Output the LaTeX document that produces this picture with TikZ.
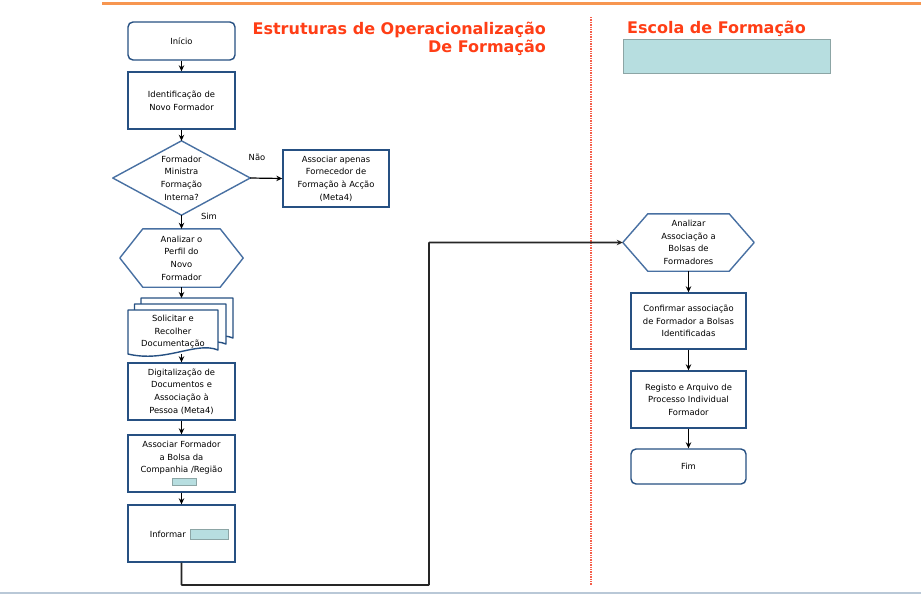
\documentclass[tikz,border=0pt]{standalone}
\usepackage{fontspec}
\setmainfont{DejaVu Sans}
\usetikzlibrary{arrows.meta}

\definecolor{boxblue}{RGB}{38,80,130}
\definecolor{hexblue}{RGB}{72,112,162}
\definecolor{banner}{RGB}{183,222,224}
\definecolor{bannerline}{RGB}{140,165,165}
\definecolor{titlered}{RGB}{255,62,22}
\definecolor{topline}{RGB}{247,150,80}
\definecolor{bottomline}{RGB}{185,200,215}
\definecolor{divider}{RGB}{245,95,75}

\newcommand\boxfont{\fontsize{8.4}{12.6}\selectfont}
\newcommand\titlefont{\bfseries\fontsize{16}{18}\selectfont}

\tikzset{
  box/.style={draw=boxblue, line width=1.4, fill=white, minimum width=107,
    minimum height=57, inner sep=0, align=center, font=\boxfont},
  term/.style={box, rounded corners=5, minimum height=38},
  frame/.style={minimum width=107, minimum height=57, inner sep=0,
    align=center, font=\boxfont},
  outline/.style={draw=hexblue, line width=1.4, line join=round},
  flow/.style={-{Stealth[length=6,width=5.5]}, line width=1.2, black},
  link/.style={-{Stealth[length=6,width=5.5]}, line width=1.6,
    black!85, rounded corners=0.5},
  tag/.style={draw=bannerline, fill=banner, line width=1, inner sep=0},
  lbl/.style={font=\boxfont, inner sep=0},
  title/.style={font=\titlefont, text=titlered, inner sep=0},
  doc/.style={draw=boxblue, line width=1.4, fill=white, line join=round},
}

% document sheet with a wavy lower edge
\newcommand\docsheet[4]{%
  \draw[doc] (#1,#2) -- (#3,#2) -- (#3,#4-4)
    .. controls (#3-22,#4-13) and (#1+38,#4+9) .. (#1,#4) -- cycle;}

\begin{document}
\begin{tikzpicture}[x=1pt,y=-1pt]
\useasboundingbox (0,0) rectangle (921,595);

% frame lines
\draw[topline, line width=3] (102,3) -- (921,3);
\draw[bottomline, line width=2] (0,593) -- (921,593);
\draw[divider, line width=1.6, dash pattern=on 1.4 off 1] (591,17) -- (591,585);

% lane titles
\node[title, anchor=base east] (t1) at (546,34) {Estruturas de Operacionalização};
\node[title, anchor=base east] (t2) at (546,52) {De Formação};
\node[title, anchor=base west] (t3) at (627,33) {Escola de Formação};
\node[tag, minimum width=207, minimum height=34, anchor=north west] (band) at (623,39) {};

% left lane
\node[term] (inicio) at (181.5,41) {Início};
\node[box] (ident) at (181.5,100.5) {Identificação de\\Novo Formador};

\node[frame, minimum width=137, minimum height=74] (dec) at (181.5,178)
  {Formador\\Ministra\\Formação\\Interna?};
\draw[outline] (dec.west) -- (dec.north) -- (dec.east) -- (dec.south) -- cycle;

\node[box, minimum width=106] (assoc) at (336,178.5)
  {Associar apenas\\Fornecedor de\\Formação à Acção\\(Meta4)};

\node[frame, minimum width=123, minimum height=58] (perf) at (181.5,258)
  {Analizar o\\Perfil do\\Novo\\Formador};
\draw[outline] (perf.west) -- ([xshift=23]perf.north west) -- ([xshift=-23]perf.north east)
  -- (perf.east) -- ([xshift=-23]perf.south east) -- ([xshift=23]perf.south west) -- cycle;

% stacked documents
\docsheet{141}{298}{233}{342}
\docsheet{134.5}{304}{226}{348}
\docsheet{128}{310}{218}{354}
\node[frame, minimum width=90, minimum height=44] (sol) at (173,332)
  {Solicitar e\\Recolher\\Documentação};
\coordinate (soltop) at (181.5,298);

\node[box] (dig) at (181.5,391.5)
  {Digitalização de\\Documentos e\\Associação à\\Pessoa (Meta4)};
\node[box] (bolsa) at (181.5,463.5)
  {Associar Formador\\a Bolsa da\\Companhia /Região\\\mbox{}};
\node[tag, minimum width=24, minimum height=7] (bolsatag) at (184,481.5) {};
\node[box] (inf) at (181.5,533.5) {};
\node[lbl, anchor=east] (inftxt) at (186,534) {Informar};
\node[tag, minimum width=38, minimum height=10] (inftag) at (209,534) {};

% right lane
\node[frame, minimum width=131, minimum height=57] (ana) at (688.5,242.5)
  {Analizar\\Associação a\\Bolsas de\\Formadores};
\draw[outline] (ana.west) -- ([xshift=25]ana.north west) -- ([xshift=-25]ana.north east)
  -- (ana.east) -- ([xshift=-25]ana.south east) -- ([xshift=25]ana.south west) -- cycle;
\node[box, minimum width=115, minimum height=56] (conf) at (688.5,321)
  {Confirmar associação\\de Formador a Bolsas\\Identificadas};
\node[box, minimum width=115] (reg) at (688.5,399.5)
  {Registo e Arquivo de\\Processo Individual\\Formador};
\node[term, minimum width=115, minimum height=35] (fim) at (688.5,466.5) {Fim};

% connectors
\draw[flow] (inicio) -- (ident);
\draw[flow] (ident) -- (dec.north);
\draw[flow] (dec.east) -- (assoc.west);
\node[lbl] (nao) at (257,157) {Não};
\draw[flow] (dec.south) -- (perf.north);
\node[lbl] (sim) at (209,216.5) {Sim};
\draw[flow] (perf.south) -- (soltop);
\draw[flow] (dig.north |- sol.south) -- (dig.north);
\draw[flow] (dig) -- (bolsa);
\draw[flow] (bolsa) -- (inf);
\coordinate (turn) at (429,585);
\draw[link] (inf.south) |- (turn) |- (ana.west);
\draw[flow] (ana.south) -- (conf.north);
\draw[flow] (conf) -- (reg);
\draw[flow] (reg) -- (fim);
\end{tikzpicture}
\end{document}
